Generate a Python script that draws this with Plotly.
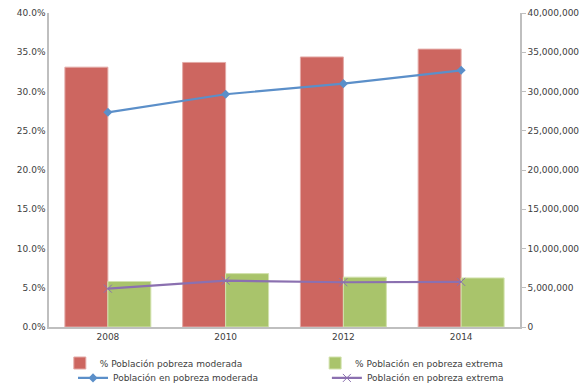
import plotly.graph_objects as go

years = ["2008", "2010", "2012", "2014"]
pct_moderada = [33.1, 33.7, 34.4, 35.4]      # % población pobreza moderada
pct_extrema = [5.8, 6.8, 6.35, 6.25]         # % población en pobreza extrema
pob_moderada = [27350000, 29650000, 31000000, 32700000]
pob_extrema = [4880000, 5900000, 5700000, 5750000]

font_family = "Verdana, DejaVu Sans, sans-serif"
axis_color = "#BFBFBF"
text_color = "#404040"
font_size = 9

fig = go.Figure()
fig.add_trace(go.Bar(
    x=years, y=[v / 100 for v in pct_moderada],
    name="% Población pobreza moderada", legend="legend",
    marker=dict(color="#CD6660", line=dict(color="#E3A9A6", width=1)),
))
fig.add_trace(go.Bar(
    x=years, y=[v / 100 for v in pct_extrema],
    name="% Población en pobreza extrema", legend="legend2",
    marker=dict(color="#A9C46B", line=dict(color="#D2E2AE", width=1)),
))
fig.add_trace(go.Scatter(
    x=years, y=pob_moderada, yaxis="y2", mode="lines+markers",
    name="Población en pobreza moderada", legend="legend3",
    line=dict(color="#5B8FC9", width=2.2),
    marker=dict(symbol="diamond", size=7, color="#5B8FC9"),
))
fig.add_trace(go.Scatter(
    x=years, y=pob_extrema, yaxis="y2", mode="lines+markers",
    name="Población en pobreza extrema", legend="legend4",
    line=dict(color="#8B70B0", width=2.2),
    marker=dict(symbol="x-thin", size=8, color="#8B70B0",
                line=dict(color="#8B70B0", width=1)),
))

# one single-entry legend per slot: two rows, two columns under the plot
legend_style = dict(
    orientation="v", xanchor="left", yanchor="top",
    font=dict(size=font_size, color=text_color), itemwidth=30,
    tracegroupgap=0, bgcolor="rgba(0,0,0,0)",
)
row1_y, row2_y = -0.0685, -0.116

fig.update_layout(
    width=586, height=387,
    margin=dict(l=49, r=66, t=13, b=60, autoexpand=False),
    paper_bgcolor="white", plot_bgcolor="white",
    font=dict(family=font_family, size=font_size, color=text_color),
    barmode="group", bargap=0.27, bargroupgap=0,
    showlegend=True,
    legend=dict(x=0.023, y=row1_y, **legend_style),
    legend2=dict(x=0.565, y=row1_y, **legend_style),
    legend3=dict(x=0.051, y=row2_y, **legend_style),
    legend4=dict(x=0.590, y=row2_y, **legend_style),
    xaxis=dict(
        showline=True, linecolor=axis_color, linewidth=1.5,
        ticks="", showgrid=False, mirror=False,
        tickfont=dict(size=font_size, color=text_color),
    ),
    yaxis=dict(
        range=[0, 0.4], dtick=0.05, tickformat=".1%",
        showline=True, linecolor=axis_color, linewidth=1.5,
        showgrid=False, zeroline=False, ticks="",
        tickfont=dict(size=font_size, color=text_color),
    ),
    yaxis2=dict(
        overlaying="y", side="right",
        range=[0, 40000000], dtick=5000000, tickformat=",",
        showline=True, linecolor=axis_color, linewidth=1.5,
        showgrid=False, zeroline=False,
        ticks="outside", ticklen=4, tickcolor=axis_color,
        tickfont=dict(size=font_size, color=text_color),
    ),
)

fig.write_html("out.html")
